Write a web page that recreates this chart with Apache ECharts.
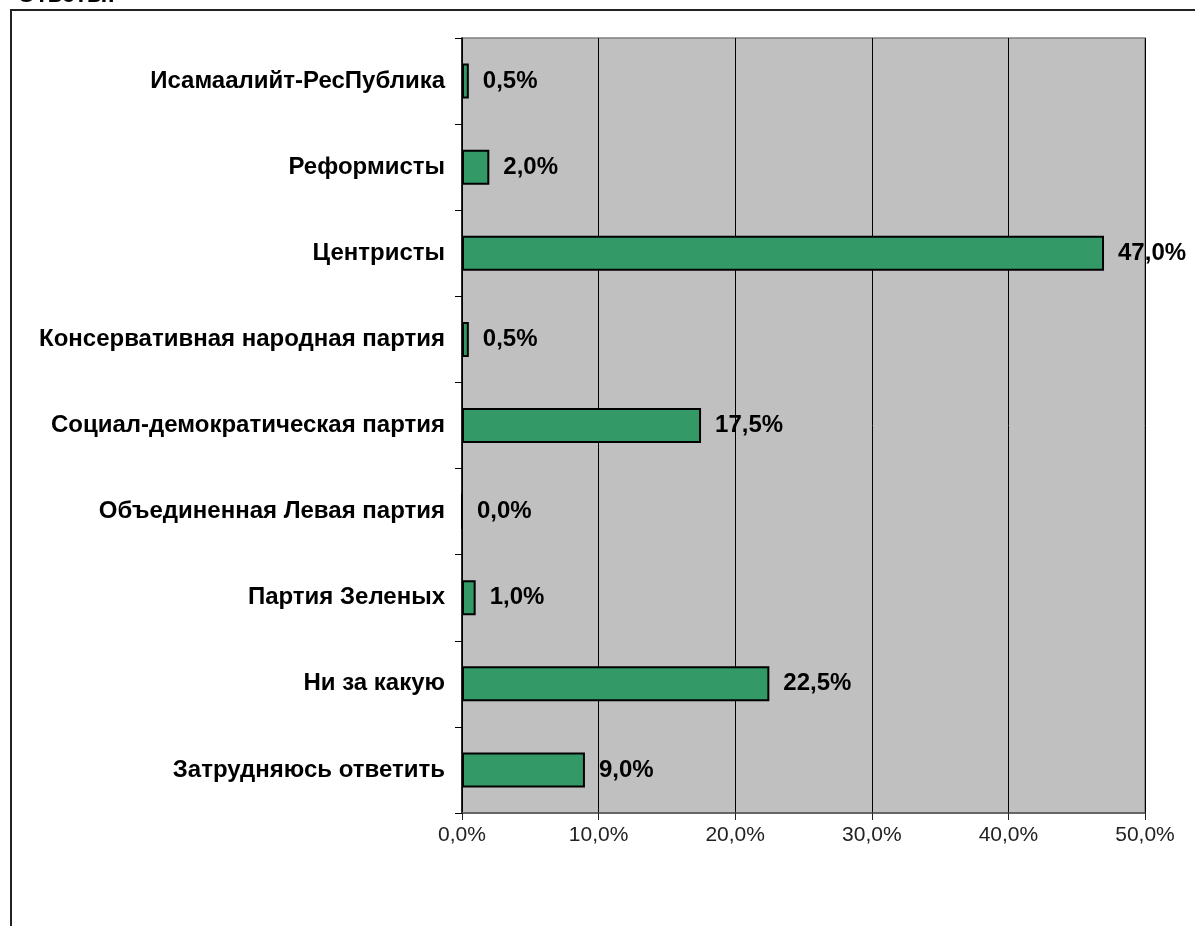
<!DOCTYPE html>
<html>
<head>
<meta charset="utf-8">
<script src="https://cdn.jsdelivr.net/npm/echarts@6/dist/echarts.min.js"></script>
<style>
  html, body { margin: 0; padding: 0; background: #fff; }
  #chart { width: 1195px; height: 926px; }
</style>
</head>
<body>
<div id="chart"></div>
<script>
// Опрос: за какую партию голосовали бы (доли ответов, %)
const parties = [
  'Исамаалийт-РесПублика',
  'Реформисты',
  'Центристы',
  'Консервативная народная партия',
  'Социал-демократическая партия',
  'Объединенная Левая партия',
  'Партия Зеленых',
  'Ни за какую',
  'Затрудняюсь ответить'
]
const shares = [0.5, 2.0, 47.0, 0.5, 17.5, 0.0, 1.0, 22.5, 9.0]
const xTicks = [0, 10, 20, 30, 40, 50]

const fmt = v => v.toFixed(1).replace('.', ',') + '%'
const font = 'Liberation Sans, Arial, sans-serif'

const chart = echarts.init(document.getElementById('chart'), null, { renderer: 'canvas' })

chart.setOption({
  backgroundColor: '#fff',
  animation: false,
  graphic: [
    { type: 'rect', shape: { x: 11, y: 10, width: 1250, height: 1000 }, style: { fill: 'none', stroke: '#222', lineWidth: 2 }, z: -1 },
    { type: 'text', x: 17, y: 7, style: { text: 'Ответы:', font: 'bold 24px ' + font, fill: '#000', textVerticalAlign: 'bottom' } }
  ],
  grid: {
    left: 462, right: 50, top: 38, bottom: 113,
    show: true, backgroundColor: '#c0c0c0', borderColor: '#808080', borderWidth: 1.5
  },
  xAxis: {
    type: 'value', min: xTicks[0], max: xTicks[xTicks.length - 1], interval: 10,
    axisLine: { show: true, lineStyle: { color: '#555', width: 1.5 } },
    axisTick: { show: true, length: 7, lineStyle: { color: '#222' } },
    axisLabel: { formatter: fmt, color: '#222', fontSize: 21, fontFamily: font, margin: 12 },
    splitLine: { show: true, lineStyle: { color: '#000', width: 1 } }
  },
  yAxis: {
    type: 'category', data: parties, inverse: true,
    axisLine: { show: true, lineStyle: { color: '#000', width: 1.5 } },
    axisTick: { show: true, length: 7, alignWithLabel: false, lineStyle: { color: '#000' } },
    axisLabel: { color: '#000', fontSize: 24, fontWeight: 'bold', fontFamily: font, margin: 17 },
    splitLine: { show: false }
  },
  series: [{
    type: 'bar',
    data: shares,
    barWidth: 35,
    itemStyle: { color: '#339966', borderColor: '#000', borderWidth: 2 },
    label: {
      show: true, position: 'right', distance: 14,
      formatter: p => fmt(p.value),
      color: '#000', fontSize: 24, fontWeight: 'bold', fontFamily: font
    }
  }]
})
</script>
</body>
</html>
